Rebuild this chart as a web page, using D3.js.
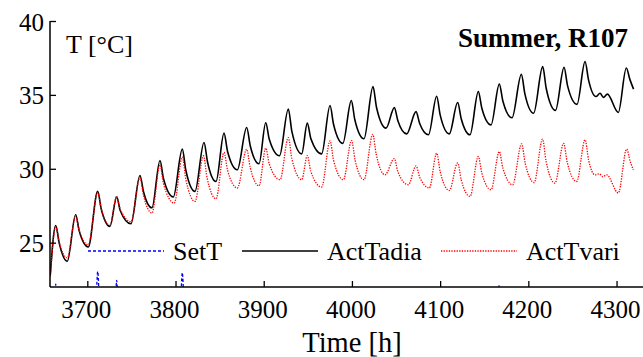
<!DOCTYPE html>
<html>
<head>
<meta charset="utf-8">
<script src="https://cdn.jsdelivr.net/npm/d3@7"></script>
<style>
  html, body { margin: 0; padding: 0; background: #fff; }
  svg { display: block; }
  text { font-family: "Liberation Serif", "Times New Roman", serif; fill: #000; }
</style>
</head>
<body>
<svg id="chart" width="643" height="357"></svg>
<script>
// Room temperature series, hours of the year vs °C
const tadiaHours = [3658, 3664.2, 3668.2, 3677.3, 3686.8, 3690.8, 3701.1, 3711.8, 3715.8, 3725.7, 3733.3, 3737.3, 3749.5, 3759.7, 3763.7, 3773.3, 3782.4, 3786.4, 3797.5, 3807.7, 3811.7, 3822.1, 3832.3, 3836.3, 3845.9, 3855, 3859, 3870.1, 3880.7, 3884.7, 3894.7, 3902.3, 3906.3, 3917.9, 3927.9, 3931.9, 3943.1, 3949.4, 3953.4, 3965.7, 3975.2, 3979.2, 3989.7, 3999.3, 4003.3, 4013.7, 4023.9, 4027.9, 4038.7, 4048.1, 4052.1, 4062.1, 4072.7, 4076.7, 4086.8, 4096.1, 4100.1, 4110.4, 4119.9, 4123.9, 4133.9, 4143.3, 4147.3, 4157.7, 4167.1, 4171.1, 4181.5, 4192.1, 4196.1, 4206, 4216.3, 4220.3, 4230.8, 4240.5, 4244.5, 4255.2, 4264.3, 4268.3, 4276.7, 4281.3, 4285.2, 4289.6, 4302, 4311.1, 4315.1, 4319.3];
const tadiaTemps = [22.8, 26.15, 24.95, 23.74, 26.89, 25.8, 24.71, 28.47, 27.28, 26.1, 28.09, 27.18, 26.28, 29.55, 28.45, 27.36, 30.56, 29.32, 28.09, 31.33, 29.9, 28.47, 31.78, 30.46, 29.14, 32.41, 31.17, 29.93, 32.79, 31.56, 30.34, 33.11, 32.0, 30.88, 34.05, 32.53, 31.01, 33.09, 32.05, 31.01, 34.28, 33.0, 31.72, 34.61, 33.32, 32.03, 35.56, 34.15, 32.75, 34.14, 33.25, 32.36, 33.87, 33.08, 32.3, 34.91, 33.63, 32.36, 34.48, 33.39, 32.3, 35.22, 34.1, 32.97, 35.73, 34.59, 33.45, 36.39, 35.07, 33.76, 36.91, 35.43, 33.95, 36.86, 35.61, 34.36, 37.25, 36.0, 34.89, 35.11, 34.83, 35.05, 33.81, 36.82, 36.05, 35.39];

const tvariHours = [3658, 3664.2, 3668.2, 3677.3, 3686.8, 3690.8, 3701.1, 3711.8, 3715.8, 3725.7, 3733.3, 3737.3, 3749.5, 3759.7, 3763.7, 3773.3, 3782.4, 3786.4, 3798.6, 3807.7, 3811.7, 3822.1, 3831.7, 3835.7, 3845.9, 3855, 3859, 3870.1, 3880.7, 3884.7, 3894.7, 3902.3, 3906.3, 3918.5, 3927.9, 3931.9, 3943.1, 3949.4, 3953.4, 3965.7, 3975.2, 3979.2, 3990.3, 3999.6, 4003.6, 4013.7, 4023.6, 4027.6, 4037.5, 4048.1, 4052.1, 4064, 4072.7, 4076.7, 4087.8, 4096.1, 4100.1, 4110.4, 4119.9, 4123.9, 4133.9, 4143.3, 4147.3, 4157.7, 4167.1, 4171.1, 4182.2, 4192.4, 4196.4, 4206.6, 4216.1, 4220.1, 4230.1, 4240.1, 4244.1, 4254.8, 4264.3, 4268.3, 4275.6, 4280.5, 4284.3, 4288.8, 4302, 4311.5, 4315.5, 4319];
const tvariTemps = [22.7, 26.08, 25.02, 23.97, 26.82, 25.84, 24.86, 28.4, 27.29, 26.18, 28.14, 27.28, 26.42, 29.39, 28.2, 27.0, 30.27, 28.98, 27.68, 30.79, 29.29, 27.79, 30.88, 29.42, 27.97, 31.1, 29.9, 28.7, 31.32, 30.08, 28.85, 31.4, 30.33, 29.26, 32.11, 30.68, 29.26, 30.89, 29.82, 28.76, 31.89, 30.57, 29.26, 31.91, 30.58, 29.26, 32.33, 30.96, 29.59, 30.69, 29.8, 28.92, 30.2, 29.45, 28.7, 31.06, 29.8, 28.53, 30.39, 29.26, 28.13, 30.83, 29.7, 28.58, 31.17, 30.05, 28.92, 31.69, 30.38, 29.07, 32.0, 30.52, 29.03, 31.72, 30.43, 29.14, 31.96, 30.6, 29.59, 29.66, 29.46, 29.59, 28.36, 31.33, 30.5, 29.93];

// Setpoint stays below the visible range except for a few short spikes
const setHours = [3658, 3662.4, 3664.2, 3666, 3709.6, 3711.8, 3714, 3731.6, 3733.3, 3735, 3805.5, 3807.7, 3809.9, 4165.4, 4167.1, 4168.8, 4320];
const setTemps = [21, 21, 22.2, 21, 21, 23.05, 21, 21, 22.45, 21, 21, 22.97, 21, 21, 22.12, 21, 21];

const yTicks = [25, 30, 35, 40];
const xTicks = [3700, 3800, 3900, 4000, 4100, 4200, 4300];
const seriesNames = ["SetT", "ActTadia", "ActTvari"];

const svg = d3.select("#chart");
const x = d3.scaleLinear().domain([3657.7, 4330]).range([50, 643]);
const y = d3.scaleLinear().domain([22, 40]).range([287, 21]);

svg.append("defs").append("clipPath").attr("id", "plot")
  .append("rect").attr("x", 50).attr("y", 0).attr("width", 593).attr("height", 287);

const line = d3.line().x(d => x(d[0])).y(d => y(d[1])).curve(d3.curveMonotoneX);
const zip = (a, b) => a.slice(0, Math.min(a.length, b.length)).map((v, i) => [v, b[i]]);

const g = svg.append("g").attr("clip-path", "url(#plot)");
g.append("path").datum(zip(setHours, setTemps)).attr("d", line)
  .attr("fill", "none").attr("stroke", "#0000ff").attr("stroke-width", 1.3).attr("stroke-dasharray", "3,2");
g.append("path").datum(zip(tadiaHours, tadiaTemps)).attr("d", line)
  .attr("fill", "none").attr("stroke", "#000").attr("stroke-width", 1.6).attr("stroke-linejoin", "round");
g.append("path").datum(zip(tvariHours, tvariTemps)).attr("d", line)
  .attr("fill", "none").attr("stroke", "#ff0000").attr("stroke-width", 1.3).attr("stroke-dasharray", "1.3,1.3");

// Axes: ticks point inward, no frame on top or right
const yAxis = svg.append("g").attr("transform", "translate(50,0)")
  .call(d3.axisRight(y).tickValues(yTicks).tickSize(6).tickFormat(""));
const xAxis = svg.append("g").attr("transform", "translate(0,287)")
  .call(d3.axisTop(x).tickValues(xTicks).tickSize(6).tickFormat(""));
[yAxis, xAxis].forEach(a => {
  a.select(".domain").attr("stroke", "#000").attr("stroke-width", 1.5);
  a.selectAll(".tick line").attr("stroke", "#000").attr("stroke-width", 1.3);
});
yAxis.select(".domain").attr("d", `M0,${y(22)}V${y(40)}`);
xAxis.select(".domain").attr("d", `M${x.range()[0]},0H${x.range()[1]}`);

svg.append("g").selectAll("text").data(yTicks).join("text")
  .attr("x", 44).attr("y", d => y(d) + 9.5).attr("text-anchor", "end")
  .attr("font-size", 25).text(d => d);
svg.append("g").selectAll("text").data(xTicks).join("text")
  .attr("x", d => x(d) - 1).attr("y", 318).attr("text-anchor", "middle")
  .attr("font-size", 25).text(d => d);

svg.append("text").attr("x", 352).attr("y", 352).attr("text-anchor", "middle")
  .attr("font-size", 28.5).text("Time [h]");
svg.append("text").attr("x", 66).attr("y", 53).attr("font-size", 26).text("T [°C]");
svg.append("text").attr("x", 628).attr("y", 47).attr("text-anchor", "end")
  .attr("font-size", 27).attr("font-weight", "bold").text("Summer, R107");

// Legend
const legend = [
  { name: seriesNames[0], x1: 88, x2: 164, tx: 173, color: "#0000ff", dash: "3,2", w: 1.3 },
  { name: seriesNames[1], x1: 242, x2: 318, tx: 327, color: "#000", dash: null, w: 1.6 },
  { name: seriesNames[2], x1: 441, x2: 517, tx: 526, color: "#ff0000", dash: "1.3,1.3", w: 1.3 }
];
const lg = svg.append("g").selectAll("g").data(legend).join("g");
lg.append("line").attr("x1", d => d.x1).attr("x2", d => d.x2).attr("y1", 251).attr("y2", 251)
  .attr("stroke", d => d.color).attr("stroke-width", d => d.w).attr("stroke-dasharray", d => d.dash);
lg.append("text").attr("x", d => d.tx).attr("y", 260).attr("font-size", 26).text(d => d.name);
</script>
</body>
</html>
